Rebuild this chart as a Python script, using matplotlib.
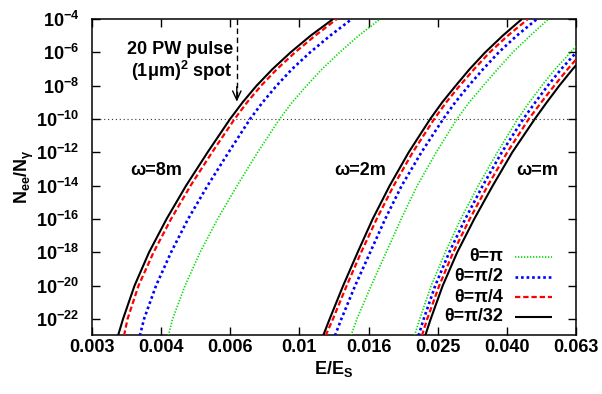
import numpy as np
import matplotlib
matplotlib.use("Agg")
import matplotlib.pyplot as plt
from matplotlib.ticker import FixedLocator, FixedFormatter, NullLocator

plt.rcParams["font.family"] = ["Liberation Sans", "DejaVu Sans"]
plt.rcParams["font.weight"] = "bold"
plt.rcParams["mathtext.fontset"] = "custom"
plt.rcParams["mathtext.rm"] = "Liberation Sans:bold"
plt.rcParams["mathtext.bf"] = "Liberation Sans:bold"
plt.rcParams["mathtext.it"] = "Liberation Sans:bold"
plt.rcParams["mathtext.default"] = "bf"

# ── Data ─────────────────────────────────────────────────────────────────────
# log10(N_ee/N_gamma) levels at which the curves were read
y_exp = [-23, -22, -20, -18, -16, -14, -12, -10, -9, -8, -7, -6, -5, -4]

# omega = 8m
x_8m_pi   = [0.0048494, 0.0049793, 0.0053869, 0.0059202, 0.0066096, 0.0074727, 0.0085019,
             0.0097646, 0.010564, 0.011573, 0.012759, 0.014245, 0.016055, 0.018381]
x_8m_pi2  = [0.0040531, 0.0041616, 0.0044881, 0.0049325, 0.0054896, 0.0062064, 0.0070834,
             0.0081099, 0.0087737, 0.0095819, 0.010564, 0.011831, 0.013418, 0.015382]
x_8m_pi4  = [0.0036694, 0.0037511, 0.0040200, 0.0044181, 0.0049325, 0.0055766, 0.0063847,
             0.0073561, 0.0079582, 0.0086913, 0.0096121, 0.010765, 0.012209, 0.013996]
x_8m_pi32 = [0.0035334, 0.0036464, 0.0039201, 0.0042947, 0.0047948, 0.0054209, 0.0062064,
             0.0071506, 0.0077359, 0.0084485, 0.0093437, 0.010465, 0.011868, 0.013674]

# omega = 2m
x_2m_pi   = [0.015295, 0.015874, 0.017369, 0.019088, 0.020978, 0.023201, 0.026148,
             0.029787, 0.032185, 0.035150, 0.038508, 0.042321, 0.047249, 0.053017]
x_2m_pi2  = [0.013830, 0.014398, 0.015705, 0.017260, 0.018969, 0.021045, 0.023823,
             0.027326, 0.029470, 0.032084, 0.035150, 0.038752, 0.043400, 0.049284]
x_2m_pi4  = [0.013043, 0.013657, 0.014887, 0.016309, 0.017981, 0.020011, 0.022553,
             0.025821, 0.027847, 0.030317, 0.033214, 0.036617, 0.041010, 0.046570]
x_2m_pi32 = [0.012840, 0.013376, 0.014562, 0.015954, 0.017533, 0.019514, 0.021992,
             0.025179, 0.027155, 0.029563, 0.032286, 0.035595, 0.039740, 0.044844]

# omega = m (curves leave through the right border at E/E_S = 0.063)
x_m_pi    = [0.022810, 0.023569, 0.025338, 0.027672, 0.030508, 0.034061, 0.038388,
             0.043675, 0.046953, 0.050796, 0.055300, 0.063]
x_m_pi2   = [0.023392, 0.024170, 0.025984, 0.028378, 0.031385, 0.035039, 0.039490,
             0.045213, 0.048760, 0.052751, 0.057430, 0.063]
x_m_pi4   = [0.023898, 0.024708, 0.026647, 0.029101, 0.032286, 0.036159, 0.040881,
             0.046805, 0.050636, 0.054954, 0.059828, 0.063]
x_m_pi32  = [0.024399, 0.025259, 0.027240, 0.029843, 0.033214, 0.037315, 0.042188,
             0.048607, 0.052420, 0.056711, 0.061741, 0.063]
y_m_pi    = [-23, -22, -20, -18, -16, -14, -12, -10, -9, -8, -7, -5.65]
y_m_pi2   = [-23, -22, -20, -18, -16, -14, -12, -10, -9, -8, -7, -6.02]
y_m_pi4   = [-23, -22, -20, -18, -16, -14, -12, -10, -9, -8, -7, -6.43]
y_m_pi32  = [-23, -22, -20, -18, -16, -14, -12, -10, -9, -8, -7, -6.78]

theta_labels = ["θ=π", "θ=π/2", "θ=π/4", "θ=π/32"]
xtick_labels = ["0.003", "0.004", "0.006", "0.01", "0.016", "0.025", "0.040", "0.063"]
ytick_exps = [-4, -6, -8, -10, -12, -14, -16, -18, -20, -22]
threshold = 1e-10
pulse_x = 0.00746
pulse_tip = 10 ** -8.96

# ── Styles ───────────────────────────────────────────────────────────────────
STYLES = [
    dict(color="#00dd00", lw=1.2, ls=(0, (0.8, 1.0))),
    dict(color="#0000ff", lw=1.9, ls=(0, (1.0, 1.1))),
    dict(color="#ff0000", lw=1.6, ls=(0, (2.4, 1.3))),
    dict(color="#000000", lw=1.5, ls="-"),
]
FS = 13

fig = plt.figure(figsize=(6.02, 3.94), dpi=100)
ax = fig.add_axes([92 / 602, 59 / 394, 484 / 602, 316 / 394])
ax.set_xscale("log")
ax.set_yscale("log")
ax.set_xlim(0.003, 0.063)
ax.set_ylim(10 ** -22.96, 1e-4)

groups = [
    ([x_8m_pi, x_8m_pi2, x_8m_pi4, x_8m_pi32], [y_exp] * 4),
    ([x_2m_pi, x_2m_pi2, x_2m_pi4, x_2m_pi32], [y_exp] * 4),
    ([x_m_pi, x_m_pi2, x_m_pi4, x_m_pi32], [y_m_pi, y_m_pi2, y_m_pi4, y_m_pi32]),
]
for xs, ys in groups:
    for xv, yv, st in zip(xs, ys, STYLES):
        ax.plot(xv, 10.0 ** np.array(yv), color=st["color"], lw=st["lw"],
                linestyle=st["ls"], solid_capstyle="butt", solid_joinstyle="round",
                zorder=3)

# threshold line
ax.axhline(threshold, color="#333333", lw=0.8, linestyle=(0, (1, 2.5)), zorder=1)

# 20 PW pulse marker
ax.plot([pulse_x, pulse_x], [1e-4, pulse_tip * 1.6], color="black", lw=1.0,
        linestyle=(0, (4, 2.5)), zorder=4)
ax.annotate("", xy=(pulse_x, pulse_tip), xytext=(pulse_x, pulse_tip * 8),
            arrowprops=dict(arrowstyle="->,head_length=0.65,head_width=0.3",
                            lw=1.0, color="black", shrinkA=0, shrinkB=0),
            zorder=4)
ax.text(0.291, 0.905, "20 PW pulse", transform=ax.transAxes, ha="right",
        va="center", fontsize=FS, fontweight="bold")
ax.text(0.291, 0.835, "(1μm)$^{2}$ spot", transform=ax.transAxes, ha="right",
        va="center", fontsize=FS, fontweight="bold")

# omega labels
ax.text(0.132, 0.522, "ω=8m", transform=ax.transAxes, ha="center", va="center",
        fontsize=FS, fontweight="bold")
ax.text(0.554, 0.522, "ω=2m", transform=ax.transAxes, ha="center", va="center",
        fontsize=FS, fontweight="bold")
ax.text(0.920, 0.520, "ω=m", transform=ax.transAxes, ha="center", va="center",
        fontsize=FS, fontweight="bold")

# legend drawn gnuplot-style: right-aligned text, sample to the right
leg_y = [0.247, 0.184, 0.120, 0.058]
for lab, st, yy in zip(theta_labels, STYLES, leg_y):
    ax.text(0.849, yy, lab, transform=ax.transAxes, ha="right", va="center",
            fontsize=FS, fontweight="bold")
    ax.plot([0.874, 0.950], [yy, yy], transform=ax.transAxes, color=st["color"],
            lw=st["lw"], linestyle=st["ls"], solid_capstyle="butt", zorder=5)

# ticks
xt = 0.003 * 21.0 ** (np.arange(len(xtick_labels)) / (len(xtick_labels) - 1))
ax.xaxis.set_major_locator(FixedLocator(xt))
ax.xaxis.set_major_formatter(FixedFormatter(xtick_labels))
ax.xaxis.set_minor_locator(NullLocator())
ax.yaxis.set_major_locator(FixedLocator([10.0 ** e for e in ytick_exps]))
ax.yaxis.set_major_formatter(FixedFormatter(["$10^{%d}$" % e for e in ytick_exps]))
ax.yaxis.set_minor_locator(NullLocator())
ax.tick_params(which="major", direction="in", length=6, width=1.0,
               top=True, right=True, labelsize=FS)
ax.tick_params(axis="x", pad=3)
ax.tick_params(axis="y", pad=9)
for lab in ax.get_xticklabels() + ax.get_yticklabels():
    lab.set_fontweight("bold")
for sp in ax.spines.values():
    sp.set_linewidth(1.1)

ax.set_xlabel("E/E$_{S}$", fontsize=FS, fontweight="bold", labelpad=2)
ax.set_ylabel("N$_{ee}$/N$_{γ}$", fontsize=FS, fontweight="bold", labelpad=0)

fig.savefig("out.png", dpi=100, facecolor="white")
